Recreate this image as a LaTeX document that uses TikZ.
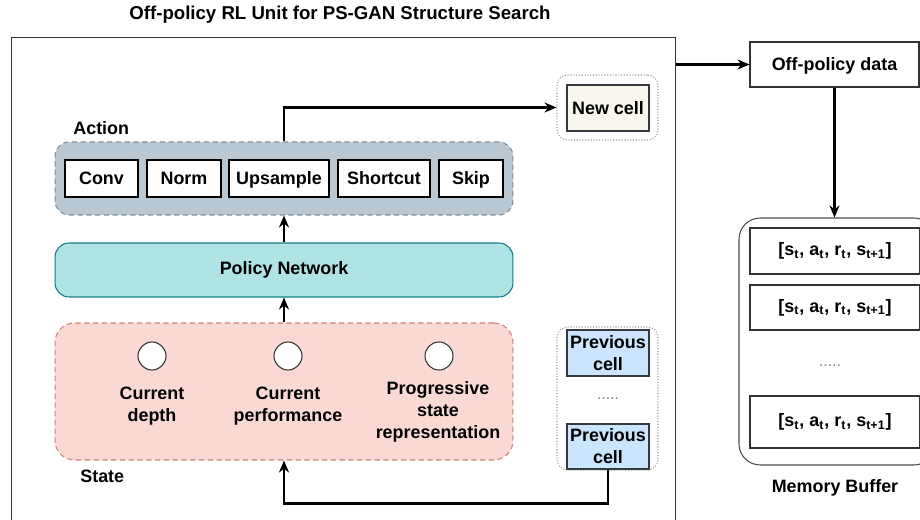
\documentclass[tikz,border=0pt]{standalone}
\usepackage{fontspec}
\setmainfont{Liberation Sans}
\usepackage{xcolor}
\usepackage{tikz}
\usetikzlibrary{positioning,arrows.meta,calc}

\definecolor{actfill}{HTML}{BAC8D3}
\definecolor{actline}{HTML}{7F8C99}
\definecolor{polfill}{HTML}{B0E3E6}
\definecolor{polline}{HTML}{0E8088}
\definecolor{stfill}{HTML}{FAD9D5}
\definecolor{stline}{HTML}{D08070}
\definecolor{newfill}{HTML}{F9F7ED}
\definecolor{prevfill}{HTML}{CCE5FF}
\definecolor{boxline}{HTML}{36393D}

\begin{document}
\begin{tikzpicture}[
		x=0.02cm,y=-0.02cm,
		font=\bfseries\fontsize{10.2}{12.5}\selectfont,
		opbox/.style={draw=black,fill=white,rectangle,inner sep=0pt,line width=0.6pt,text height=1.6ex,text depth=0.35ex},
		grp/.style={rectangle,rounded corners=8pt,inner sep=0pt,line width=0.6pt},
		cellbox/.style={draw=boxline,rectangle,inner sep=0pt,minimum width=1.64cm,minimum height=0.92cm,align=center,line width=0.6pt},
		holder/.style={draw=gray!80,densely dotted,rounded corners=6pt,rectangle,inner sep=0pt,minimum width=2.02cm,line width=0.6pt},
		entry/.style={draw=black!80,fill=white,rectangle,inner sep=0pt,minimum width=3.4cm,line width=0.6pt},
		dots/.style={font=\fontsize{9}{10}\selectfont,text=gray},
		flow/.style={-{Stealth[length=2.4mm,width=2mm]},line width=1.2pt}
		]
		\clip (0,0) rectangle (920,520);

		\node[font=\bfseries\fontsize{10.6}{12.5}\selectfont] (title) at (340,15) {Off-policy RL Unit for PS-GAN Structure Search};
		\node[draw=black!80,line width=0.6pt,minimum width=13.3cm,minimum height=9.86cm,inner sep=0pt] (frame) at (343.5,283.5) {};

		% action group
		\node[grp,fill=actfill,draw=actline,densely dashed,minimum width=9.16cm,minimum height=1.46cm] (act) at (284,178.5) {};
		\node[anchor=west,inner sep=0pt] (actlbl) at (73,128) {Action};
		\node[opbox,minimum width=1.46cm,minimum height=0.74cm] (conv) at (101.5,178.5) {Conv};
		\node[opbox,minimum width=1.48cm,minimum height=0.74cm] (norm) at (184,178.5) {Norm};
		\node[opbox,minimum width=2.0cm,minimum height=0.74cm] (ups) at (279,178.5) {Upsample};
		\node[opbox,minimum width=1.84cm,minimum height=0.74cm] (short) at (384,178.5) {Shortcut};
		\node[opbox,minimum width=1.28cm,minimum height=0.74cm] (skip) at (471,178.5) {Skip};

		% policy network
		\node[grp,fill=polfill,draw=polline,minimum width=9.16cm,minimum height=1.08cm] (pol) at (284,270) {Policy Network};

		% state group
		\node[grp,fill=stfill,draw=stline,densely dashed,rounded corners=11pt,minimum width=9.16cm,minimum height=2.74cm] (state) at (284,391.5) {};
		\node[anchor=west,inner sep=0pt] (stlbl) at (80,476) {State};
		\foreach \cx/\nm in {152/depth,288/perf,439/prog}
			\node[circle,draw=black!80,fill=white,minimum size=0.56cm,inner sep=0pt,line width=0.6pt] (c\nm) at (\cx,356) {};
		\node[align=center] (ldepth) at (152,406) {Current\\depth};
		\node[align=center] (lperf) at (288,406) {Current\\performance};
		\node[align=center] (lprog) at (438,412) {Progressive\\state\\representation};

		% cells
		\node[holder,minimum height=1.3cm] (newgrp) at (607.5,107.5) {};
		\node[cellbox,fill=newfill] (newc) at (608,108) {New cell};
		\node[holder,minimum height=2.86cm] (prevgrp) at (607.5,398.5) {};
		\node[cellbox,fill=prevfill] (prev1) at (608,353) {Previous\\cell};
		\node[dots] (pdots) at (608,399) {.....};
		\node[cellbox,fill=prevfill,minimum height=0.9cm] (prev2) at (608,446.5) {Previous\\cell};

		% memory side
		\node[opbox,draw=black!80,minimum width=3.38cm,minimum height=0.9cm] (data) at (834.5,64.5) {Off-policy data};
		\node[draw=black!70,rounded corners=12pt,rectangle,inner sep=0pt,minimum width=3.92cm,minimum height=4.94cm,line width=0.6pt] (buf) at (837,341.5) {};
		\node[entry,minimum height=0.92cm] (e1) at (835,251) {[s\textsubscript{t}, a\textsubscript{t}, r\textsubscript{t}, s\textsubscript{t+1}]};
		\node[entry,minimum height=0.9cm] (e2) at (835,307.5) {[s\textsubscript{t}, a\textsubscript{t}, r\textsubscript{t}, s\textsubscript{t+1}]};
		\node[dots] (mdots) at (830,366) {.....};
		\node[entry,minimum height=1.04cm] (e3) at (835,422) {[s\textsubscript{t}, a\textsubscript{t}, r\textsubscript{t}, s\textsubscript{t+1}]};
		\node (buflbl) at (835,488) {Memory Buffer};

		\draw[flow] (pol.north) -- (act.south);
		\draw[flow] (state.north) -- (pol.south);
		\draw[flow] (act.north) |- (newgrp.west);
		\draw[flow] (prev2.south) -- ++(0,34) -| (state.south);
		\draw[flow] (frame.east |- data.west) -- (data.west);
		\draw[flow] (data.south) -- (data.south |- buf.north);
	\end{tikzpicture}
\end{document}
